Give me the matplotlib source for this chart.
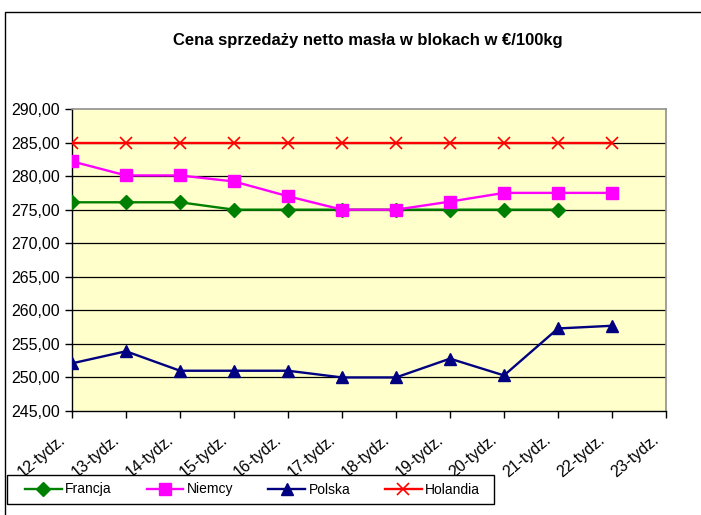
import matplotlib
matplotlib.use("Agg")
import matplotlib.pyplot as plt
from matplotlib.patches import Rectangle
from matplotlib.transforms import ScaledTranslation

plt.rcParams['font.family'] = ['Liberation Sans', 'DejaVu Sans']

categories = ["12-tydz.", "13-tydz.", "14-tydz.", "15-tydz.", "16-tydz.", "17-tydz.",
              "18-tydz.", "19-tydz.", "20-tydz.", "21-tydz.", "22-tydz.", "23-tydz."]
francja = [276.1, 276.1, 276.1, 275.0, 275.0, 275.0, 275.0, 275.0, 275.0, 275.0]
niemcy = [282.2, 280.1, 280.1, 279.2, 277.0, 275.0, 275.0, 276.2, 277.5, 277.5, 277.5]
polska = [252.1, 253.9, 251.0, 251.0, 251.0, 250.0, 250.0, 252.8, 250.3, 257.3, 257.7]
holandia = [285.0] * 11
yticks = [245, 250, 255, 260, 265, 270, 275, 280, 285, 290]
title = "Cena sprzedaży netto masła w blokach w €/100kg"

W, H = 701, 515
fig = plt.figure(figsize=(W / 100, H / 100), dpi=100)
fig.patch.set_facecolor("white")

# outer chart frame
fig.patches.append(Rectangle((5 / W, -0.2), 1.2, 1 - 12 / H + 0.2, transform=fig.transFigure,
                             fill=False, edgecolor="black", linewidth=1.0))

ax = fig.add_axes([72 / W, 1 - 411 / H, (666 - 72) / W, (411 - 109) / H])
ax.set_facecolor("#FFFFCC")

for y in yticks[1:-1]:
    ax.axhline(y, color="black", linewidth=0.9, zorder=1)

lw = 1.7
ax.plot(range(len(francja)), francja, color="#008000", linewidth=lw, marker="D",
        markersize=7, label="Francja", zorder=3)
ax.plot(range(len(niemcy)), niemcy, color="#FF00FF", linewidth=lw, marker="s",
        markersize=8, label="Niemcy", zorder=3)
ax.plot(range(len(polska)), polska, color="#000080", linewidth=lw, marker="^",
        markersize=8.5, label="Polska", zorder=3)
ax.plot(range(len(holandia)), holandia, color="#FF0000", linewidth=lw, marker="x",
        markersize=9, markeredgewidth=1.2, label="Holandia", zorder=3)

ax.set_xlim(0, len(categories) - 1)
ax.set_ylim(245, 290)
ax.set_yticks(yticks)
ax.set_yticklabels([f"{v:.2f}".replace(".", ",") for v in yticks], fontsize=11.5)
ax.set_xticks(range(len(categories)))

for s in ["top", "right"]:
    ax.spines[s].set_color("#909090")
    ax.spines[s].set_linewidth(1.2)
for s in ["left", "bottom"]:
    ax.spines[s].set_color("black")
    ax.spines[s].set_linewidth(1.0)
ax.tick_params(axis="y", direction="out", length=5, width=1, pad=4)
ax.tick_params(axis="x", direction="out", length=5, width=1, pad=17)
ax.set_xticklabels(categories, rotation=40, ha="right", va="baseline",
                   rotation_mode="anchor", fontsize=11.5)
shift = ScaledTranslation(-6 / 100, 0, fig.dpi_scale_trans)
for lab in ax.get_xticklabels():
    lab.set_transform(lab.get_transform() + shift)

fig.text(368 / W, 1 - 41 / H, title, ha="center", va="center", fontsize=12,
         fontweight="bold")

# legend box
fig.patches.append(Rectangle((7 / W, 1 - 504 / H), (494 - 7) / W, 29 / H,
                             transform=fig.transFigure, facecolor="white",
                             edgecolor="black", linewidth=1.0, zorder=5))
leg = fig.legend(loc="center left", bbox_to_anchor=(25 / W, 1 - 489.5 / H),
                 bbox_transform=fig.transFigure, ncol=4, frameon=False,
                 fontsize=10, handlelength=2.65, handletextpad=0.25,
                 columnspacing=2.5, borderpad=0, borderaxespad=0)
leg.set_zorder(6)

fig.savefig("out.png", dpi=100)
